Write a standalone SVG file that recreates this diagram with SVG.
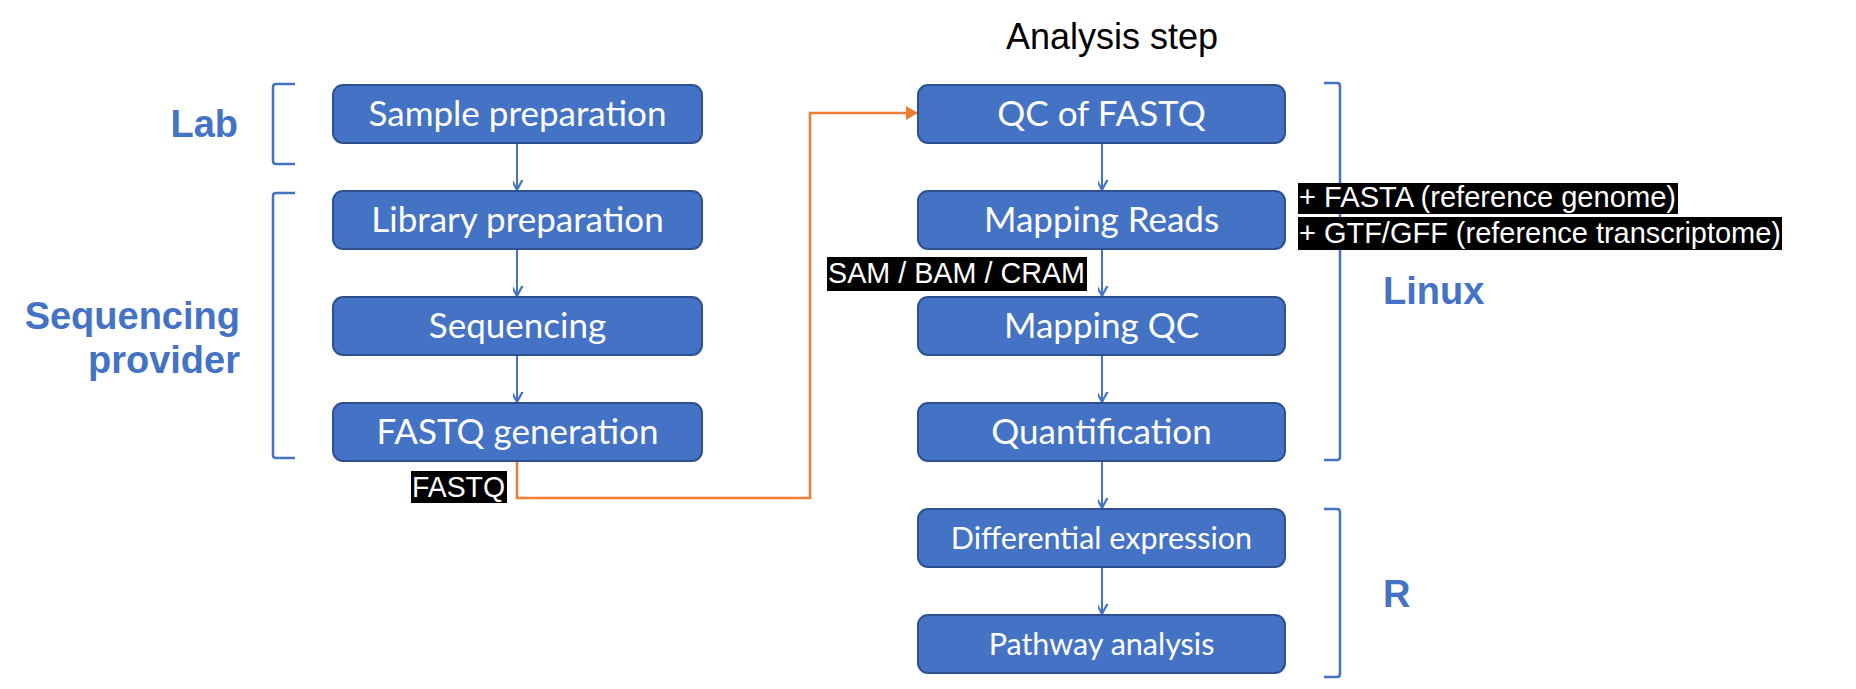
<svg xmlns="http://www.w3.org/2000/svg" width="1856" height="689" viewBox="0 0 1856 689">
<defs>
<marker id="chev" markerUnits="userSpaceOnUse" markerWidth="20" markerHeight="20" viewBox="-10 -16 20 20" refX="0" refY="0" orient="auto-start-reverse">
<path d="M-8,-15 L0,0 L8,-15" fill="none" stroke="#4472C4" stroke-width="2.2" transform="rotate(-90)"/>
</marker>
<marker id="tri" markerUnits="userSpaceOnUse" markerWidth="14" markerHeight="16" viewBox="0 -8 12 16" refX="11" refY="0" orient="auto">
<path d="M0,-7 L12,0 L0,7 Z" fill="#ED7D31"/>
</marker>
</defs>
<style>
.box{fill:#4472C4;stroke:#2F528F;stroke-width:2}
.bt{font-family:Lato,"Open Sans",sans-serif;font-size:35px;fill:#fff;text-anchor:middle}
.bs{font-family:Lato,"Open Sans",sans-serif;font-size:30.5px;fill:#fff;text-anchor:middle}
.lbl{font-family:"Liberation Sans",Arial,sans-serif;font-weight:bold;font-size:38px;fill:#4472C4}
.br{fill:none;stroke:#4472C4;stroke-width:2.5}
.tag{fill:#000}
.tt{font-family:"Liberation Sans",Arial,sans-serif;font-size:29px;fill:#fff}
.arr{stroke:#4472C4;stroke-width:2;fill:none}
</style>
<rect width="1856" height="689" fill="#fff"/>
<text x="1112" y="49" font-family="Liberation Sans,Arial,sans-serif" font-size="36" text-anchor="middle" fill="#000">Analysis step</text>
<g id="brackets">
<path class="br" d="M295,84 H276 Q273,84 273,87 V161 Q273,164 276,164 H295"/>
<path class="br" d="M295,193 H276 Q273,193 273,196 V455 Q273,458 276,458 H295"/>
<path class="br" d="M1324,83 H1337 Q1340,83 1340,86 V457 Q1340,460 1337,460 H1324"/>
<path class="br" d="M1324,509 H1337 Q1340,509 1340,512 V674 Q1340,677 1337,677 H1324"/>
</g>
<g id="group-labels">
<text class="lbl" x="238" y="137" text-anchor="end">Lab</text>
<text class="lbl" x="240" y="329" text-anchor="end">Sequencing</text>
<text class="lbl" x="240" y="373" text-anchor="end">provider</text>
<text class="lbl" x="1383" y="304">Linux</text>
<text class="lbl" x="1383" y="607">R</text>
</g>
<g id="connectors">
<line class="arr" x1="517" y1="143" x2="517" y2="190" marker-end="url(#chev)"/>
<line class="arr" x1="517" y1="249" x2="517" y2="296" marker-end="url(#chev)"/>
<line class="arr" x1="517" y1="355" x2="517" y2="402" marker-end="url(#chev)"/>
<line class="arr" x1="1102" y1="143" x2="1102" y2="190" marker-end="url(#chev)"/>
<line class="arr" x1="1102" y1="249" x2="1102" y2="296" marker-end="url(#chev)"/>
<line class="arr" x1="1102" y1="355" x2="1102" y2="402" marker-end="url(#chev)"/>
<line class="arr" x1="1102" y1="461" x2="1102" y2="508" marker-end="url(#chev)"/>
<line class="arr" x1="1102" y1="567" x2="1102" y2="614" marker-end="url(#chev)"/>
<path d="M517,461 V498 H810 V113 H917" fill="none" stroke="#ED7D31" stroke-width="2.6" marker-end="url(#tri)"/>
</g>
<g id="n-sample"><rect class="box" x="333" y="85" width="369" height="58" rx="10"/><text class="bt" x="517.5" y="126">Sample preparation</text></g>
<g id="n-library"><rect class="box" x="333" y="191" width="369" height="58" rx="10"/><text class="bt" x="517.5" y="232">Library preparation</text></g>
<g id="n-seq"><rect class="box" x="333" y="297" width="369" height="58" rx="10"/><text class="bt" x="517.5" y="338">Sequencing</text></g>
<g id="n-fastqgen"><rect class="box" x="333" y="403" width="369" height="58" rx="10"/><text class="bt" x="517.5" y="444">FASTQ generation</text></g>
<g id="n-qc"><rect class="box" x="918" y="85" width="367" height="58" rx="10"/><text class="bt" x="1101.5" y="126">QC of FASTQ</text></g>
<g id="n-map"><rect class="box" x="918" y="191" width="367" height="58" rx="10"/><text class="bt" x="1101.5" y="232">Mapping Reads</text></g>
<g id="n-mapqc"><rect class="box" x="918" y="297" width="367" height="58" rx="10"/><text class="bt" x="1101.5" y="338">Mapping QC</text></g>
<g id="n-quant"><rect class="box" x="918" y="403" width="367" height="58" rx="10"/><text class="bt" x="1101.5" y="444">Quantification</text></g>
<g id="n-diff"><rect class="box" x="918" y="509" width="367" height="58" rx="10"/><text class="bs" x="1101.5" y="549">Differential expression</text></g>
<g id="n-path"><rect class="box" x="918" y="615" width="367" height="58" rx="10"/><text class="bs" x="1101.5" y="655">Pathway analysis</text></g>
<g id="tags">
<rect class="tag" x="411" y="471" width="96" height="32"/><text class="tt" x="412" y="497" textLength="93" lengthAdjust="spacingAndGlyphs">FASTQ</text>
<rect class="tag" x="827" y="257" width="260" height="34"/><text class="tt" x="828" y="283" textLength="257" lengthAdjust="spacingAndGlyphs">SAM / BAM / CRAM</text>
<rect class="tag" x="1298" y="183" width="380" height="31"/><text class="tt" x="1299" y="207" textLength="377" lengthAdjust="spacingAndGlyphs">+ FASTA (reference genome)</text>
<rect class="tag" x="1298" y="217" width="484" height="33"/><text class="tt" x="1299" y="243" textLength="482" lengthAdjust="spacingAndGlyphs">+ GTF/GFF (reference transcriptome)</text>
</g>
</svg>
